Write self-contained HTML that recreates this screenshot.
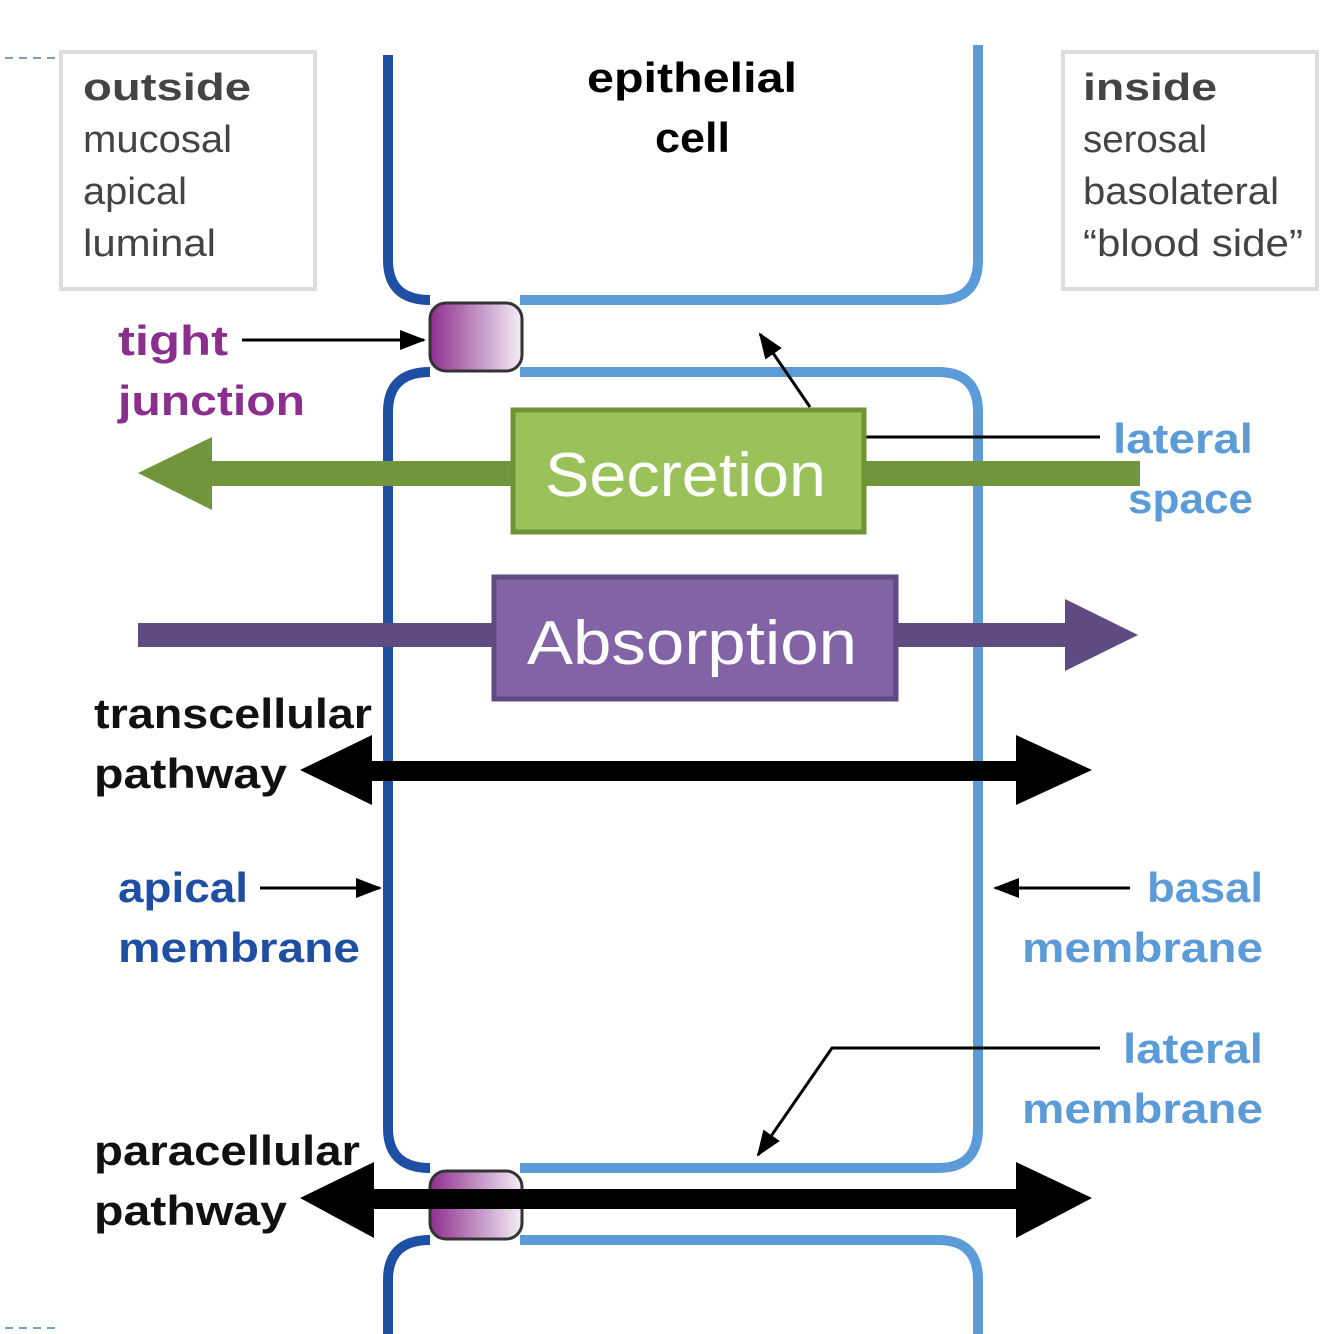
<!DOCTYPE html>
<html><head><style>body{margin:0;background:#fff}svg{display:block}</style></head><body>
<svg width="1334" height="1334" viewBox="0 0 1334 1334" xmlns="http://www.w3.org/2000/svg" font-family="Liberation Sans, sans-serif">
<defs>
<linearGradient id="tj" x1="0" x2="1"><stop offset="0" stop-color="#8e2f8e"/><stop offset="1" stop-color="#f3eef5"/></linearGradient>
<marker id="ah2" markerWidth="26" markerHeight="20" refX="24" refY="10" orient="auto" markerUnits="userSpaceOnUse"><path d="M0,0 L26,10 L0,20z" fill="#000"/></marker>
</defs>
<line x1="5" y1="58" x2="58" y2="58" stroke="#7a9cc8" stroke-width="2" stroke-dasharray="8,6"/>
<line x1="5" y1="1328" x2="58" y2="1328" stroke="#7a9cc8" stroke-width="2" stroke-dasharray="8,6"/>
<rect x="61" y="52" width="254" height="237" fill="#fff" stroke="#ddd" stroke-width="4"/>
<rect x="1063" y="52" width="254" height="237" fill="#fff" stroke="#ddd" stroke-width="4"/>
<g font-size="38" fill="#444" lengthAdjust="spacingAndGlyphs">
<text x="83" y="100" font-weight="bold" textLength="168" lengthAdjust="spacingAndGlyphs">outside</text>
<text x="83" y="152" textLength="149" lengthAdjust="spacingAndGlyphs">mucosal</text>
<text x="83" y="204" textLength="104" lengthAdjust="spacingAndGlyphs">apical</text>
<text x="83" y="256" textLength="133" lengthAdjust="spacingAndGlyphs">luminal</text>
<text x="1083" y="100" font-weight="bold" textLength="134" lengthAdjust="spacingAndGlyphs">inside</text>
<text x="1083" y="152" textLength="124" lengthAdjust="spacingAndGlyphs">serosal</text>
<text x="1083" y="204" textLength="196" lengthAdjust="spacingAndGlyphs">basolateral</text>
<text x="1083" y="256" textLength="220" lengthAdjust="spacingAndGlyphs">“blood side”</text>
</g>
<g fill="none" stroke-width="10">
<path d="M388,55 V260 Q388,300 430,300" stroke="#1f4fa3"/>
<path d="M520,300 H938 Q978,300 978,260 V45" stroke="#5b9bd8"/>
<path d="M430,372 Q388,372 388,412 V1128 Q388,1168 430,1168" stroke="#1f4fa3"/>
<path d="M520,372 H938 Q978,372 978,412 V1128 Q978,1168 938,1168 H520" stroke="#5b9bd8"/>
<path d="M430,1240 Q388,1240 388,1280 V1334" stroke="#1f4fa3"/>
<path d="M520,1240 H938 Q978,1240 978,1280 V1334" stroke="#5b9bd8"/>
</g>
<rect x="430" y="303" width="92" height="68" rx="16" fill="url(#tj)" stroke="#333" stroke-width="3"/>
<rect x="430" y="1171" width="92" height="68" rx="16" fill="url(#tj)" stroke="#333" stroke-width="3"/>
<text x="587" y="92" font-size="42" font-weight="bold" textLength="210" lengthAdjust="spacingAndGlyphs">epithelial</text>
<text x="655" y="152" font-size="42" font-weight="bold" textLength="75" lengthAdjust="spacingAndGlyphs">cell</text>
<g font-weight="bold" font-size="42">
<text x="118" y="355" fill="#8b2f8f" textLength="110" lengthAdjust="spacingAndGlyphs">tight</text>
<text x="118" y="415" fill="#8b2f8f" textLength="187" lengthAdjust="spacingAndGlyphs">junction</text>
<text x="1113" y="453" fill="#5b9bd8" textLength="140" lengthAdjust="spacingAndGlyphs">lateral</text>
<text x="1128" y="513" fill="#5b9bd8" textLength="125" lengthAdjust="spacingAndGlyphs">space</text>
<text x="94" y="728" fill="#111" textLength="278" lengthAdjust="spacingAndGlyphs">transcellular</text>
<text x="94" y="788" fill="#111" textLength="193" lengthAdjust="spacingAndGlyphs">pathway</text>
<text x="118" y="902" fill="#1f4fa3" textLength="130" lengthAdjust="spacingAndGlyphs">apical</text>
<text x="118" y="962" fill="#1f4fa3" textLength="242" lengthAdjust="spacingAndGlyphs">membrane</text>
<text x="1147" y="902" fill="#5b9bd8" textLength="116" lengthAdjust="spacingAndGlyphs">basal</text>
<text x="1022" y="962" fill="#5b9bd8" textLength="241" lengthAdjust="spacingAndGlyphs">membrane</text>
<text x="1123" y="1063" fill="#5b9bd8" textLength="140" lengthAdjust="spacingAndGlyphs">lateral</text>
<text x="1022" y="1123" fill="#5b9bd8" textLength="241" lengthAdjust="spacingAndGlyphs">membrane</text>
<text x="94" y="1165" fill="#111" textLength="266" lengthAdjust="spacingAndGlyphs">paracellular</text>
<text x="94" y="1225" fill="#111" textLength="193" lengthAdjust="spacingAndGlyphs">pathway</text>
</g>
<line x1="242" y1="340" x2="424" y2="340" stroke="#000" stroke-width="3" marker-end="url(#ah2)"/>
<line x1="260" y1="888" x2="380" y2="888" stroke="#000" stroke-width="3" marker-end="url(#ah2)"/>
<line x1="1130" y1="888" x2="995" y2="888" stroke="#000" stroke-width="3" marker-end="url(#ah2)"/>
<polyline points="1100,1048 832,1048 758,1155" fill="none" stroke="#000" stroke-width="3" marker-end="url(#ah2)"/>
<line x1="810" y1="407" x2="760" y2="334" stroke="#000" stroke-width="3" marker-end="url(#ah2)"/>
<line x1="862" y1="437" x2="1100" y2="437" stroke="#000" stroke-width="3"/>
<rect x="210" y="461" width="930" height="25" fill="#71953a"/>
<path d="M138,473 L212,437 L212,510z" fill="#71953a"/>
<rect x="513" y="410" width="351" height="122" fill="#9bc25a" stroke="#6f9438" stroke-width="5"/>
<text x="545" y="496" font-size="62" fill="#fff" textLength="281" lengthAdjust="spacingAndGlyphs">Secretion</text>
<rect x="138" y="623" width="930" height="24" fill="#5f4a82"/>
<path d="M1138,635 L1065,599 L1065,671z" fill="#5f4a82"/>
<rect x="494" y="577" width="402" height="122" fill="#8163a6" stroke="#5f4a82" stroke-width="5"/>
<text x="527" y="664" font-size="62" fill="#fff" textLength="330" lengthAdjust="spacingAndGlyphs">Absorption</text>
<rect x="360" y="761" width="670" height="20" fill="#000"/>
<path d="M300,770 L372,735 L372,805z M1092,770 L1016,735 L1016,805z" fill="#000"/>
<rect x="360" y="1189" width="670" height="20" fill="#000"/>
<path d="M300,1198 L374,1162 L374,1238z M1092,1198 L1016,1162 L1016,1238z" fill="#000"/>
</svg>
</body></html>
